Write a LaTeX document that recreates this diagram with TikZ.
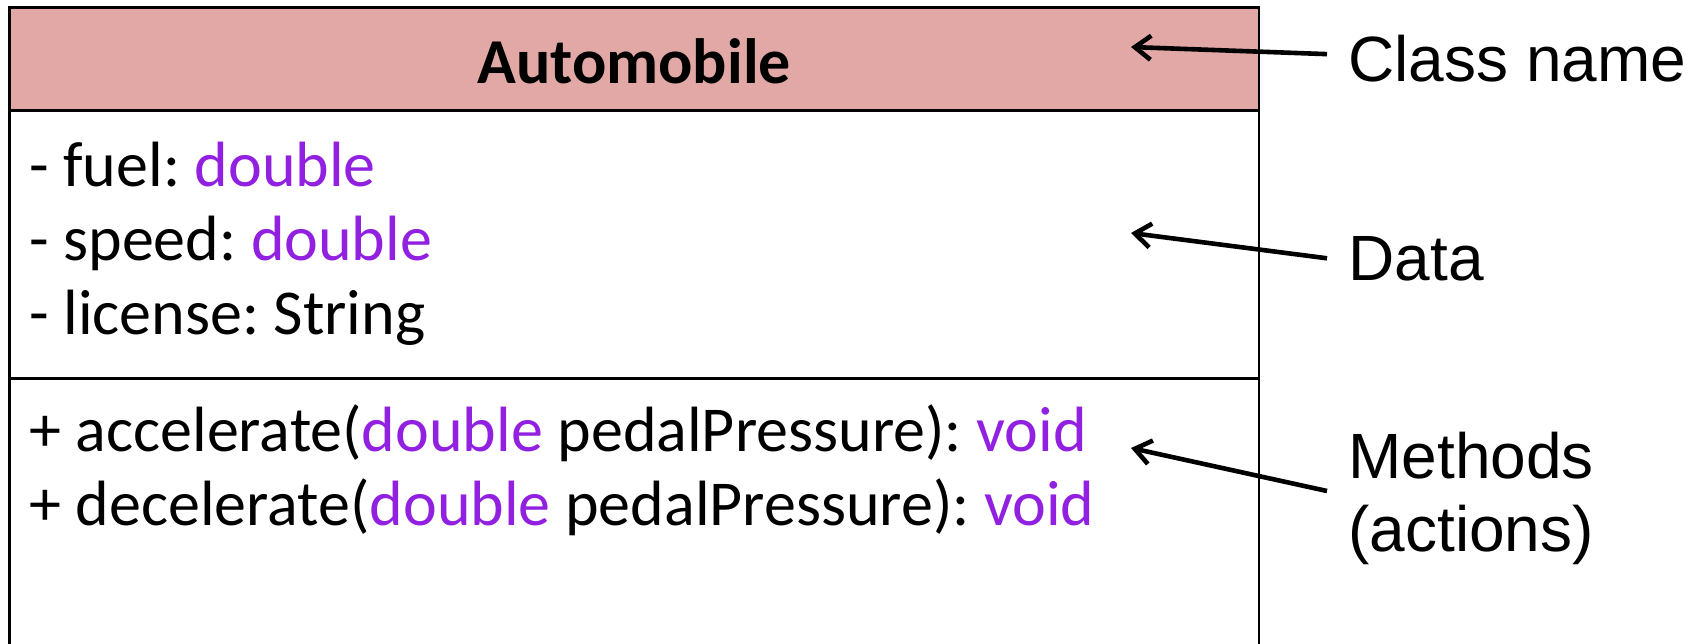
\documentclass[tikz,border=0pt]{standalone}
\usepackage{fontspec}
\setmainfont{Liberation Sans}
\newfontfamily\boxfont{Carlito}
\usetikzlibrary{arrows.meta}
\definecolor{headfill}{RGB}{226,168,166}
\definecolor{typecol}{RGB}{145,32,224}
\frenchspacing
\tikzset{
  boxline/.style={line width=1.2pt, draw=black},
  boxtxt/.style={font=\boxfont\fontsize{32pt}{36.85pt}\selectfont, inner sep=0pt, anchor=base west},
  lbl/.style={font=\fontsize{32pt}{36.5pt}\selectfont, inner sep=0pt, align=left},
  arr/.style={line width=2.3pt, -{Straight Barb[length=8pt, width=12pt]}},
}
\newcommand{\ty}[1]{\textcolor{typecol}{#1}}
\begin{document}
\begin{tikzpicture}[x=0.5pt, y=-0.5pt]
  \useasboundingbox (0,0) rectangle (1700,643);
  \clip (0,0) rectangle (1700,643);

  % class box: header compartment, open at the lower edge
  \fill[headfill] (9.5,7.5) rectangle (1259,110.5);
  \draw[boxline] (9.5,660) -- (9.5,7.5) -- (1259,7.5) -- (1259,660);
  \draw[boxline] (9.5,110.5) -- (1259,110.5);
  \draw[boxline] (9.5,378.5) -- (1259,378.5);

  % class name
  \node[boxtxt, anchor=base, font=\boxfont\bfseries\fontsize{32pt}{36.85pt}\selectfont] (cls) at (634,83.5) {Automobile};

  % attributes
  \node[boxtxt] (attr1) at (29,186.5) {- fuel: \ty{double}};
  \node[boxtxt] (attr2) at (29,260) {- speed: \ty{double}};
  \node[boxtxt] (attr3) at (29,334) {- license: String};

  % operations
  \node[boxtxt] (op1) at (29,451) {+ accelerate(\ty{double} pedalPressure): \ty{void}};
  \node[boxtxt] (op2) at (29,525) {+ decelerate(\ty{double} pedalPressure): \ty{void}};

  % callout targets inside the box
  \coordinate (clsTip) at (1131,47);
  \coordinate (dataTip) at (1131,233);
  \coordinate (methTip) at (1131,448);

  % callout labels
  \node[lbl, anchor=base west] (lblCls) at (1348,81) {Class name};
  \node[lbl, anchor=base west] (lblData) at (1348,280) {Data};
  \node[lbl, anchor=north west] (lblMeth) at (1348,432) {Methods\\(actions)};

  % callout arrows
  \draw[arr] ([xshift=-10.5pt, yshift=2pt]lblCls.west) -- (clsTip);
  \draw[arr] ([xshift=-10.5pt]lblData.west) -- (dataTip);
  \draw[arr] ([xshift=-10.5pt]lblMeth.west |- 0,491) -- (methTip);
\end{tikzpicture}
\end{document}
